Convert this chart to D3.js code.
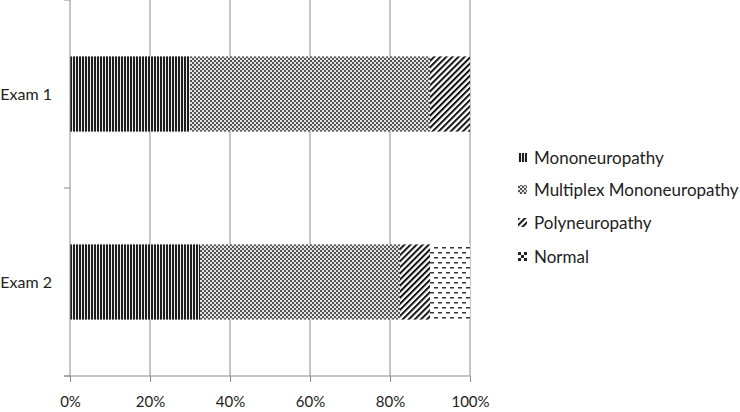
<!DOCTYPE html>
<html>
<head>
<meta charset="utf-8">
<script src="https://cdn.jsdelivr.net/npm/d3@7"></script>
<style>
  body { margin: 0; background: #fff; }
  svg text { font-family: Lato, "Open Sans", sans-serif; fill: #222; }
</style>
</head>
<body>
<svg id="chart"></svg>
<script>
const exams = ['Exam 1', 'Exam 2'];
const seriesNames = ['Mononeuropathy', 'Multiplex Mononeuropathy', 'Polyneuropathy', 'Normal'];
const mono = [30, 32.5];
const multiplex = [60, 50];
const poly = [10, 7.5];
const normal = [0, 10];
const xTicks = [0, 20, 40, 60, 80, 100];

const width = 740, height = 412;
const margin = { top: 0, left: 70, right: 270, bottom: 36 };
const plotW = width - margin.left - margin.right;
const plotH = height - margin.top - margin.bottom;

const svg = d3.select('#chart').attr('width', width).attr('height', height);
const defs = svg.append('defs');

// patterns
const pMono = defs.append('pattern').attr('id', 'p0').attr('patternUnits', 'userSpaceOnUse')
  .attr('width', 3).attr('height', 3);
pMono.append('rect').attr('width', 3).attr('height', 3).attr('fill', '#ececec');
pMono.append('rect').attr('width', 2).attr('height', 3).attr('fill', '#1e1e1e');

const pMulti = defs.append('pattern').attr('id', 'p1').attr('patternUnits', 'userSpaceOnUse')
  .attr('width', 4).attr('height', 4);
pMulti.append('rect').attr('width', 4).attr('height', 4).attr('fill', '#e4e4e4');
pMulti.append('rect').attr('width', 2).attr('height', 2).attr('fill', '#555');
pMulti.append('rect').attr('x', 2).attr('y', 2).attr('width', 2).attr('height', 2).attr('fill', '#555');

const pPoly = defs.append('pattern').attr('id', 'p2').attr('patternUnits', 'userSpaceOnUse')
  .attr('width', 4.3).attr('height', 4.3).attr('patternTransform', 'rotate(45)');
pPoly.append('rect').attr('width', 4.3).attr('height', 4.3).attr('fill', '#fff');
pPoly.append('rect').attr('width', 2).attr('height', 4.3).attr('fill', '#111');

const pNorm = defs.append('pattern').attr('id', 'p3').attr('patternUnits', 'userSpaceOnUse')
  .attr('width', 8).attr('height', 10);
pNorm.append('rect').attr('width', 8).attr('height', 10).attr('fill', '#fff');
pNorm.append('rect').attr('x', 0).attr('y', 2).attr('width', 4).attr('height', 1.5).attr('fill', '#333');
pNorm.append('rect').attr('x', 4).attr('y', 7).attr('width', 4).attr('height', 1.5).attr('fill', '#333');

const pNormIcon = defs.append('pattern').attr('id', 'p3i').attr('patternUnits', 'userSpaceOnUse')
  .attr('width', 9).attr('height', 9).attr('x', 518).attr('y', 0);
pNormIcon.append('rect').attr('width', 9).attr('height', 9).attr('fill', '#fff');
[[0, 0], [6, 0], [3, 3], [0, 6], [6, 6]].forEach(([a, b]) =>
  pNormIcon.append('rect').attr('x', a).attr('y', b).attr('width', 3).attr('height', 3).attr('fill', '#222'));

const g = svg.append('g').attr('transform', `translate(${margin.left},${margin.top})`);

const x = d3.scaleLinear().domain([0, 100]).range([0, plotW]);
const y = d3.scaleBand().domain(exams).range([0, plotH]).paddingInner(0.6).paddingOuter(0.3);

// gridlines
g.selectAll('.grid').data(xTicks.slice(1)).enter().append('line')
  .attr('x1', d => x(d)).attr('x2', d => x(d))
  .attr('y1', 0).attr('y2', plotH)
  .attr('stroke', '#8c8c8c').attr('stroke-width', 1);

// stacked data
const rows = exams.map((e, i) => ({ exam: e, 0: mono[i], 1: multiplex[i], 2: poly[i], 3: normal[i] }));
const stack = d3.stack().keys([0, 1, 2, 3])(rows);

stack.forEach((layer, k) => {
  g.selectAll('.s' + k).data(layer).enter().append('rect')
    .attr('x', d => x(d[0]))
    .attr('width', d => x(d[1]) - x(d[0]))
    .attr('y', d => y(d.data.exam))
    .attr('height', y.bandwidth())
    .attr('fill', `url(#p${k})`);
});

// y axis
const yAxis = g.append('g');
yAxis.append('line').attr('x1', 0).attr('x2', 0).attr('y1', 0).attr('y2', plotH).attr('stroke', '#8c8c8c');
const step = y.step();
[0, step, 2 * step].forEach(v => {
  yAxis.append('line').attr('x1', -6).attr('x2', 0).attr('y1', v).attr('y2', v).attr('stroke', '#8c8c8c');
});
yAxis.selectAll('.yl').data(exams).enter().append('text')
  .attr('x', -18).attr('y', d => y(d) + y.bandwidth() / 2)
  .attr('dy', '0.35em').attr('text-anchor', 'end')
  .style('font-size', '16px').text(d => d);

// x axis
const xAxis = g.append('g').attr('transform', `translate(0,${plotH})`)
  .call(d3.axisBottom(x).tickValues(xTicks).tickSize(6).tickPadding(14).tickFormat(d => d + '%'));
xAxis.select('.domain').attr('stroke', '#8c8c8c').attr('d', `M-6,0H${plotW}`);
xAxis.selectAll('.tick line').attr('stroke', '#8c8c8c');
xAxis.selectAll('.tick text').style('font-size', '15px').attr('fill', '#222');

// legend
const legY = [158, 190, 223, 257];
const leg = svg.append('g');
seriesNames.forEach((n, i) => {
  leg.append('rect').attr('x', 518).attr('y', legY[i] - 5).attr('width', 9).attr('height', 9)
    .attr('fill', i === 3 ? 'url(#p3i)' : `url(#p${i})`);
  leg.append('text').attr('x', 534).attr('y', legY[i]).attr('dy', '0.35em')
    .style('font-size', '17px').text(n);
});
</script>
</body>
</html>
